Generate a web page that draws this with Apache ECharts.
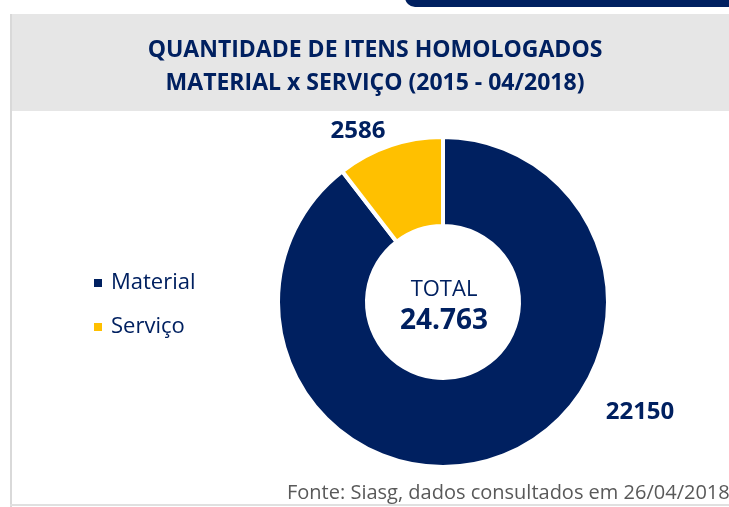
<!DOCTYPE html>
<html>
<head>
<meta charset="utf-8">
<script src="https://cdn.jsdelivr.net/npm/echarts@6/dist/echarts.min.js"></script>
<style>
  html, body { margin: 0; padding: 0; background: #fff; }
  #chart { width: 729px; height: 507px; }
</style>
</head>
<body>
<div id="chart"></div>
<script>
// dados
var categories = ['Material', 'Serviço'];
var values = [22150, 2586];
var colors = ['#002060', '#FFC000'];
var totalLabel = '24.763';   // como aparece no original
var titleLines = ['QUANTIDADE DE ITENS HOMOLOGADOS', 'MATERIAL x SERVIÇO (2015 - 04/2018)'];
var footer = 'Fonte: Siasg, dados consultados em 26/04/2018.';

var chart = echarts.init(document.getElementById('chart'));
var navy = '#002060';
var font = 'Open Sans';

// posição dos rótulos de valor
var labelPos = [[640, 412], [358, 131]];

var option = {
    animation: false,
    color: colors,
    title: {
        text: titleLines.join('\n'),
        left: 375,
        top: 34,
        padding: 0,
        textAlign: 'center',
        textStyle: {
            fontFamily: font,
            fontWeight: 'bold',
            fontSize: 23,
            lineHeight: 33,
            color: navy
        }
    },
    legend: {
        orient: 'vertical',
        left: 92,
        top: 272,
        padding: 0,
        icon: 'rect',
        itemWidth: 10,
        itemHeight: 10,
        itemGap: 22,
        data: categories,
        textStyle: { fontFamily: font, fontSize: 22, color: navy, padding: [0, 0, 0, 3] }
    },
    graphic: [
        { type: 'rect', shape: { x: 10, y: 14, width: 719, height: 97 }, style: { fill: '#e6e6e6' }, z: -1 },
        { type: 'rect', shape: { x: 10, y: 14, width: 2, height: 493 }, style: { fill: '#d9d9d9' }, z: -1 },
        { type: 'rect', shape: { x: 10, y: 504, width: 719, height: 2 }, style: { fill: '#e0e0e0' }, z: -1 },
        { type: 'rect', shape: { x: 405, y: -20, width: 340, height: 27, r: 10 }, style: { fill: navy }, z: -1 },
        {
            type: 'text', z: 10,
            style: { text: 'TOTAL', x: 444, y: 290, fill: navy, font: '22px "Open Sans"', align: 'center', verticalAlign: 'middle' }
        },
        {
            type: 'text', z: 10,
            style: { text: totalLabel, x: 444, y: 321, fill: navy, font: 'bold 28px "Open Sans"', align: 'center', verticalAlign: 'middle' }
        },
        {
            type: 'text', z: 10,
            style: { text: footer, x: 287, y: 493, fill: '#595959', font: '20px "Open Sans"', verticalAlign: 'middle' }
        }
    ],
    series: [{
        type: 'pie',
        center: [443, 302],
        radius: [76, 165],
        startAngle: 90,
        clockwise: true,
        itemStyle: { borderColor: '#fff', borderWidth: 4 },
        label: {
            show: true,
            position: 'outside',
            formatter: '{c}',
            fontFamily: font,
            fontWeight: 'bold',
            fontSize: 24,
            color: navy
        },
        labelLine: { show: false },
        labelLayout: function (p) {
            var pt = labelPos[p.dataIndex];
            return { x: pt[0], y: pt[1], align: 'center', verticalAlign: 'middle' };
        },
        emphasis: { disabled: true },
        data: categories.map(function (c, i) { return { name: c, value: values[i] }; })
    }]
};
chart.setOption(option);
</script>
</body>
</html>
